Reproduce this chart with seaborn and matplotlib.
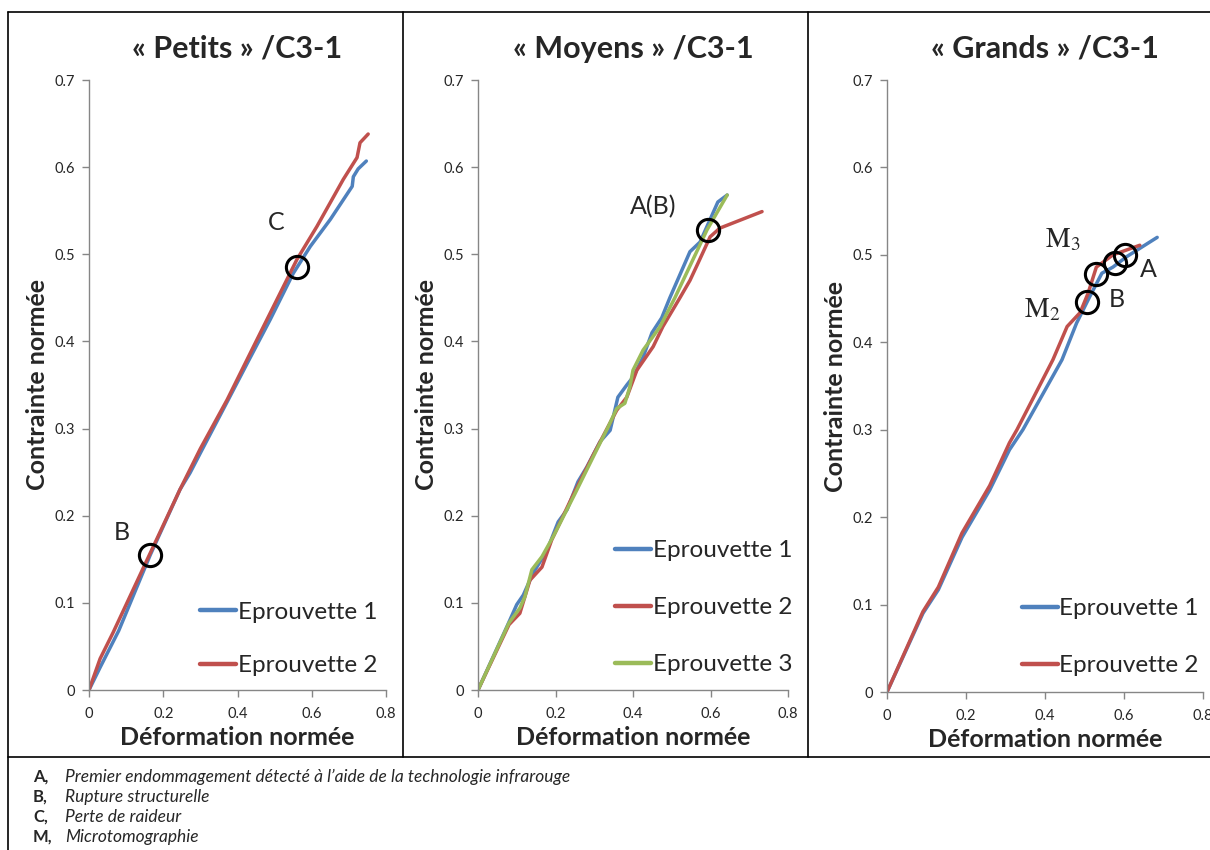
import pandas as pd
import matplotlib.pyplot as plt
import seaborn as sns
from matplotlib.lines import Line2D
from matplotlib.ticker import FuncFormatter

# Petits
petits_e1_x = [0, 0.03, 0.08, 0.165, 0.245, 0.272, 0.3, 0.375, 0.43, 0.488, 0.55, 0.596, 0.65, 0.709, 0.712, 0.725, 0.747]
petits_e1_y = [0, 0.026, 0.068, 0.155, 0.23, 0.249, 0.272, 0.333, 0.378, 0.425, 0.478, 0.509, 0.54, 0.578, 0.589, 0.598, 0.607]
petits_e2_x = [0, 0.03, 0.065, 0.156, 0.245, 0.3, 0.372, 0.45, 0.56, 0.614, 0.685, 0.722, 0.73, 0.752]
petits_e2_y = [0, 0.036, 0.066, 0.149, 0.23, 0.277, 0.333, 0.4, 0.494, 0.532, 0.586, 0.611, 0.628, 0.638]

# Moyens
moyens_e1_x = [0, 0.077, 0.1, 0.117, 0.142, 0.178, 0.199, 0.207, 0.23, 0.258, 0.281, 0.315, 0.341, 0.361,
               0.384, 0.4, 0.426, 0.449, 0.474, 0.495, 0.547, 0.573, 0.599, 0.619, 0.643]
moyens_e1_y = [0, 0.075, 0.098, 0.109, 0.134, 0.16, 0.184, 0.193, 0.207, 0.239, 0.256, 0.285, 0.298, 0.336,
               0.35, 0.359, 0.382, 0.41, 0.427, 0.45, 0.503, 0.514, 0.54, 0.56, 0.568]
moyens_e2_x = [0, 0.08, 0.108, 0.134, 0.165, 0.19, 0.25, 0.3, 0.358, 0.384, 0.41, 0.452, 0.477, 0.521,
               0.547, 0.568, 0.599, 0.624, 0.733]
moyens_e2_y = [0, 0.075, 0.088, 0.126, 0.141, 0.172, 0.228, 0.272, 0.321, 0.336, 0.367, 0.394, 0.417, 0.45,
               0.47, 0.49, 0.52, 0.53, 0.549]
moyens_e3_x = [0, 0.08, 0.108, 0.121, 0.139, 0.165, 0.194, 0.25, 0.3, 0.336, 0.358, 0.379, 0.392, 0.4,
               0.426, 0.449, 0.47, 0.508, 0.591, 0.643]
moyens_e3_y = [0, 0.077, 0.094, 0.107, 0.138, 0.153, 0.176, 0.225, 0.27, 0.302, 0.323, 0.329, 0.348, 0.367,
               0.39, 0.404, 0.417, 0.45, 0.528, 0.568]

# Grands
grands_e1_x = [0, 0.091, 0.13, 0.19, 0.26, 0.31, 0.344, 0.443, 0.48, 0.513, 0.544, 0.572, 0.607, 0.684]
grands_e1_y = [0, 0.09, 0.117, 0.177, 0.231, 0.277, 0.30, 0.38, 0.422, 0.452, 0.479, 0.486, 0.498, 0.52]
grands_e2_x = [0, 0.091, 0.13, 0.19, 0.26, 0.31, 0.329, 0.42, 0.456, 0.489, 0.509, 0.53, 0.572, 0.64]
grands_e2_y = [0, 0.092, 0.12, 0.182, 0.236, 0.285, 0.30, 0.38, 0.418, 0.434, 0.456, 0.486, 0.5, 0.511]

# points remarquables (cercles) et leurs etiquettes
petits_pts_x = [0.56, 0.165]
petits_pts_y = [0.485, 0.155]
petits_lbl = ["C", "B"]
petits_lbl_x = [0.504, 0.089]
petits_lbl_y = [0.537, 0.181]

moyens_pts_x = [0.594]
moyens_pts_y = [0.528]
moyens_lbl = ["A(B)"]
moyens_lbl_x = [0.452]
moyens_lbl_y = [0.555]

grands_pts_x = [0.506, 0.529, 0.577, 0.603]
grands_pts_y = [0.446, 0.478, 0.491, 0.5]
grands_lbl = [r"$\mathrm{M}_2$", r"$\mathrm{M}_3$", "B", "A"]
grands_lbl_x = [0.392, 0.446, 0.582, 0.661]
grands_lbl_y = [0.437, 0.517, 0.449, 0.483]

titles = ["« Petits » /C3-1", "« Moyens » /C3-1", "« Grands » /C3-1"]
notes_key = ["A,", "B,", "C,", "M,"]
notes_txt = ["Premier endommagement détecté à l’aide de la technologie infrarouge",
             "Rupture structurelle", "Perte de raideur", "Microtomographie"]

colors = {"Eprouvette 1": "#4F81BD", "Eprouvette 2": "#C0504D", "Eprouvette 3": "#9BBB59"}


def to_df(series):
    frames = []
    for name, xs, ys in series:
        frames.append(pd.DataFrame({"def": xs, "cont": ys, "serie": name}))
    return pd.concat(frames, ignore_index=True)


panels = [
    (to_df([("Eprouvette 1", petits_e1_x, petits_e1_y), ("Eprouvette 2", petits_e2_x, petits_e2_y)]),
     petits_pts_x, petits_pts_y, petits_lbl, petits_lbl_x, petits_lbl_y),
    (to_df([("Eprouvette 1", moyens_e1_x, moyens_e1_y), ("Eprouvette 2", moyens_e2_x, moyens_e2_y),
            ("Eprouvette 3", moyens_e3_x, moyens_e3_y)]),
     moyens_pts_x, moyens_pts_y, moyens_lbl, moyens_lbl_x, moyens_lbl_y),
    (to_df([("Eprouvette 1", grands_e1_x, grands_e1_y), ("Eprouvette 2", grands_e2_x, grands_e2_y)]),
     grands_pts_x, grands_pts_y, grands_lbl, grands_lbl_x, grands_lbl_y),
]

sns.set_theme(style="white")
plt.rcParams["font.family"] = ["Lato", "DejaVu Sans"]
plt.rcParams["mathtext.fontset"] = "stix"

fig = plt.figure(figsize=(12.1, 8.5), dpi=100)

# positions en pixels (gauche, droite, haut, bas)
boxes = [(89, 386, 80, 690), (478, 788, 80, 690), (887, 1203, 80, 692)]
legend_anchor = [(1.027, -0.005), (1.068, -0.004), (1.041, -0.002)]
legend_spacing = [1.32, 1.48, 1.48]

for i, (df, px, py, lbl, lx, ly) in enumerate(panels):
    l, r, t, b = boxes[i]
    ax = fig.add_axes([l / 1210, 1 - b / 850, (r - l) / 1210, (b - t) / 850])
    sns.lineplot(data=df, x="def", y="cont", hue="serie", palette=colors, sort=False,
                 estimator=None, linewidth=2.5, ax=ax)
    ax.plot(px, py, "o", ms=16, mfc="none", mec="black", mew=2.2, zorder=5)
    for s, x, y in zip(lbl, lx, ly):
        fs = 20 if s.startswith("$") else 18
        ax.text(x, y, s, fontsize=fs, ha="center", va="center", zorder=6)

    ax.set_xlim(0, 0.8)
    ax.set_ylim(0, 0.7)
    ax.set_xticks([0, 0.2, 0.4, 0.6, 0.8])
    ax.set_yticks([0, 0.1, 0.2, 0.3, 0.4, 0.5, 0.6, 0.7])
    fmt = FuncFormatter(lambda v, _: f"{v:g}")
    ax.xaxis.set_major_formatter(fmt)
    ax.yaxis.set_major_formatter(fmt)
    ax.tick_params(axis="both", direction="out", length=5, width=1, color="#868686",
                   labelsize=10.5, pad=5, bottom=True, left=True)
    ax.tick_params(axis="x", pad=7)
    for sp in ["top", "right"]:
        ax.spines[sp].set_visible(False)
    for sp in ["left", "bottom"]:
        ax.spines[sp].set_color("#868686")
        ax.spines[sp].set_linewidth(1)

    ax.set_xlabel("Déformation normée", fontsize=18, fontweight="bold", labelpad=4)
    ax.set_ylabel("Contrainte normée", fontsize=18, fontweight="bold", labelpad=4)
    ax.set_title(titles[i], fontsize=22, fontweight="bold", pad=16)

    leg = ax.legend(loc="lower right", bbox_to_anchor=legend_anchor[i], frameon=False,
                    fontsize=17.5, labelspacing=legend_spacing[i], handlelength=1.5,
                    handletextpad=0.05, borderaxespad=0.3)
    for h in leg.get_lines():
        h.set_linewidth(3.2)

# cadre style tableau
frame_kw = dict(color="black", linewidth=1.2, transform=fig.transFigure)
fig.add_artist(Line2D([8 / 1210, 1.0], [1 - 12 / 850, 1 - 12 / 850], **frame_kw))
fig.add_artist(Line2D([8 / 1210, 8 / 1210], [0, 1 - 12 / 850], **frame_kw))
for xp in [403, 808]:
    fig.add_artist(Line2D([xp / 1210, xp / 1210], [1 - 757 / 850, 1 - 12 / 850], **frame_kw))
fig.add_artist(Line2D([8 / 1210, 1.0], [1 - 757 / 850, 1 - 757 / 850], **frame_kw))

# notes sous le tableau
for k, (key, txt) in enumerate(zip(notes_key, notes_txt)):
    yk = 1 - (777 + 20 * k) / 850
    fig.text(33 / 1210, yk, key, fontsize=12, fontweight="bold", va="center")
    fig.text(65 / 1210, yk, txt, fontsize=12.5, fontstyle="italic", va="center")

fig.savefig("out.png", dpi=100)
